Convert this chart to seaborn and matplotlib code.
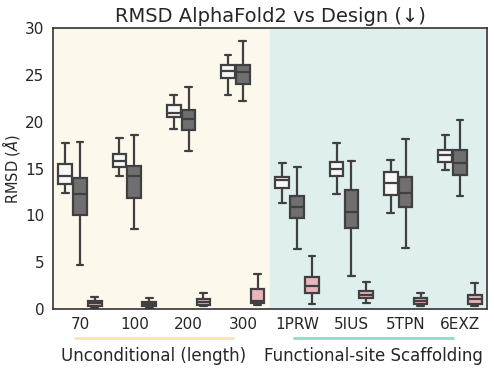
import numpy as np
import pandas as pd
import matplotlib
matplotlib.use("Agg")
import matplotlib.pyplot as plt
import seaborn as sns

# ==============================
# Data (five-number summaries: min, q1, median, q3, max)
# ==============================

categories = ["70", "100", "200", "300", "1PRW", "5IUS", "5TPN", "6EXZ"]
methods = ["Method A", "Method B", "Method C"]

method_a = [
    [12.4, 13.3, 14.2, 15.5, 17.7],
    [14.2, 15.2, 15.8, 16.5, 18.3],
    [19.2, 20.5, 20.9, 21.8, 22.8],
    [22.8, 24.7, 25.4, 26.1, 27.1],
    [11.3, 12.9, 13.8, 14.1, 15.6],
    [12.3, 14.2, 15.0, 15.7, 17.75],
    [10.3, 12.2, 13.5, 14.65, 15.9],
    [14.8, 15.65, 16.4, 17.0, 18.6],
]
method_b = [
    [4.7, 10.0, 12.3, 14.0, 17.8],
    [8.5, 11.9, 14.2, 15.3, 18.6],
    [16.9, 19.1, 20.3, 21.3, 23.7],
    [22.2, 24.0, 25.3, 26.1, 28.6],
    [6.4, 9.7, 10.9, 12.1, 15.2],
    [3.5, 8.7, 10.4, 12.7, 15.8],
    [6.5, 10.9, 12.4, 14.1, 18.2],
    [12.1, 14.3, 15.55, 17.0, 20.2],
]
method_c = [
    [0.07, 0.3, 0.6, 0.85, 1.3],
    [0.17, 0.3, 0.57, 0.75, 1.17],
    [0.3, 0.4, 0.78, 1.03, 1.75],
    [0.43, 0.67, 0.85, 2.1, 3.7],
    [0.53, 1.7, 2.5, 3.45, 5.7],
    [0.67, 1.14, 1.55, 1.9, 2.9],
    [0.35, 0.57, 0.85, 1.14, 1.7],
    [0.32, 0.5, 1.03, 1.55, 2.75],
]

group_names = ["Unconditional (length)", "Functional-site Scaffolding"]

# ==============================
# Long-form table
# ==============================

rows = []
for name, stats in zip(methods, [method_a, method_b, method_c]):
    for cat, five in zip(categories, stats):
        for v in five:
            rows.append({"category": cat, "method": name, "rmsd": v})
df = pd.DataFrame(rows)

# ==============================
# Plot
# ==============================

sns.set_style("white")
fig, ax = plt.subplots(figsize=(4.94, 3.68), dpi=100)

ax.axvspan(-0.5, 3.5, color="#fdf8ec", zorder=0)
ax.axvspan(3.5, 7.5, color="#dfefed", zorder=0)

palette = {"Method A": "#f7f7f7", "Method B": "#6f6f6f", "Method C": "#f4aab6"}
sns.boxplot(data=df, x="category", y="rmsd", hue="method", order=categories,
            hue_order=methods, palette=palette, whis=(0, 100), width=0.82,
            gap=0.08, linewidth=1.6, linecolor="#404040", legend=False, ax=ax)

ax.set_xlim(-0.5, 7.5)
ax.set_ylim(0, 30)
ax.set_yticks(range(0, 31, 5))
ax.tick_params(axis="both", labelsize=11, length=0, pad=6)
ax.set_xlabel("")
ax.set_ylabel(r"RMSD ($Å$)", fontsize=10.5)
ax.yaxis.set_label_coords(-0.07, 0.5)
ax.set_title("RMSD AlphaFold2 vs Design (↓)", fontsize=14, pad=4)
for s in ax.spines.values():
    s.set_color("#333333")
    s.set_linewidth(1.2)

# group underlines and labels
trans = ax.get_xaxis_transform()
ax.plot([-0.1, 2.82], [-0.103, -0.103], color="#fde1b3", lw=2, transform=trans, clip_on=False)
ax.plot([3.95, 6.87], [-0.103, -0.103], color="#8edcc6", lw=2, transform=trans, clip_on=False)
ax.text(1.36, -0.165, group_names[0], transform=trans, ha="center", va="center", fontsize=12)
ax.text(5.41, -0.165, group_names[1], transform=trans, ha="center", va="center", fontsize=12)

plt.subplots_adjust(left=0.107, right=0.986, top=0.924, bottom=0.16)
plt.savefig("out.png", dpi=100)
